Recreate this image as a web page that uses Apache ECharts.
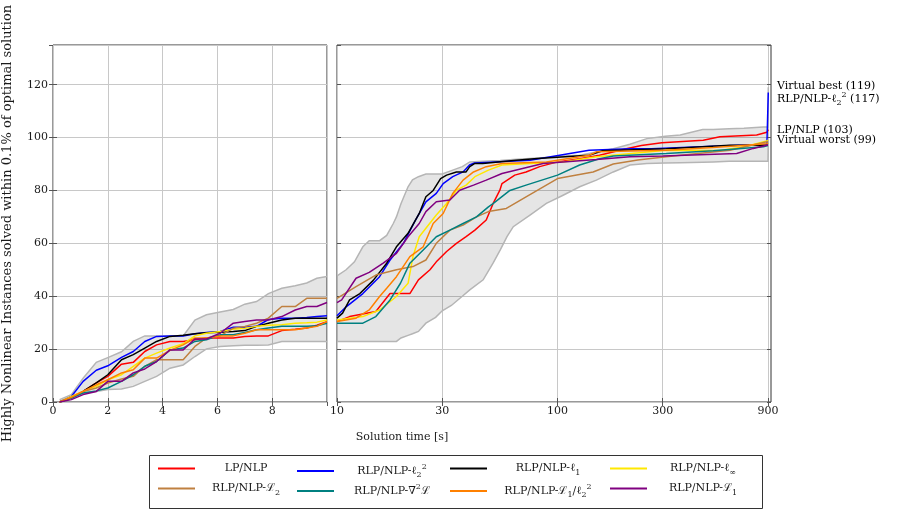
<!DOCTYPE html>
<html><head><meta charset="utf-8">
<script src="https://cdn.jsdelivr.net/npm/echarts@6/dist/echarts.min.js"></script>
<style>html,body{margin:0;padding:0;background:#fff}#c{width:903px;height:510px}</style>
</head><body><div id="c"></div>
<script>
// ---------- data ----------
const seriesNames = ['LP/NLP','RLP/NLP-ℓ₂²','RLP/NLP-ℓ₁','RLP/NLP-ℓ∞','RLP/NLP-ℒ₂','RLP/NLP-∇²ℒ','RLP/NLP-ℒ₁/ℓ₂²','RLP/NLP-ℒ₁'];
const seriesRich = ['{n|LP/NLP}','{n|RLP/NLP-ℓ}{s|2}{p|2}','{n|RLP/NLP-ℓ}{s|1}','{n|RLP/NLP-ℓ}{s|∞}','{n|RLP/NLP-ℒ}{s|2}','{n|RLP/NLP-∇}{p|2}{n|ℒ}','{n|RLP/NLP-ℒ}{s|1}{n|/ℓ}{s|2}{p|2}','{n|RLP/NLP-ℒ}{s|1}'];
const seriesColors = ['#ff0000','#0000ff','#000000','#ffe800','#bf8040','#008080','#ff8000','#800080'];

const rightTicks = [10,30,100,300,900];

// left panel (linear time 0..10 s)
const timesLeft = [0.24,0.67,1.1,1.58,2.0,2.5,2.93,3.35,3.78,4.27,4.75,5.18,5.6,6.1,6.58,7.0,7.43,7.86,8.35,8.84,9.26,9.63,10];
const bandUpperLeft = [0.9,2.8,9,15,16.8,19,22.9,25,25,25,25,31,33,34,35,37,38,41,43,44,45,46.8,47.5];
const bandLowerLeft = [0,1.5,3.4,4,4.7,4.9,5.9,7.8,9.7,12.8,14,17.2,20.1,21,21.3,21.5,21.5,21.6,22.9,22.9,22.9,22.9,22.9];
const leftLP     = [0,1.9,4,7.2,9.7,14.3,15,19.1,21.6,22.9,22.9,23.5,24.2,24.2,24.2,24.8,25,25,27,27.5,28,29,30.4];
const leftL22    = [0,2.1,7.8,12,13.7,16.9,19.1,22.9,24.8,25,25,25.8,26.3,26.7,28.3,28.3,28.6,31.2,31.7,31.7,32,32.3,32.6];
const leftL1     = [0,1.5,4,7.2,10.3,16,17.9,20.4,22.9,24.8,25.2,25.8,26.2,26.4,26.7,27,28.6,29.8,31,31.7,31.7,31.7,31.7];
const leftLinf   = [0,2.1,4,5.9,8.4,10.3,13.5,16.6,18.5,20.4,22,25,26,26.7,27.5,27.9,28.6,29,29.2,29.8,30,30.2,31];
const leftC2     = [0,1.5,4,5.3,7.2,8.7,9.7,13.5,16,16,16,21,24.2,25,27.9,28.6,29.8,31.7,36.1,36.1,39.2,39.2,39.2];
const leftNabla  = [0,1.5,3.4,4.2,5.3,7.8,10.3,13.5,15.3,19.7,20.4,22.9,23.5,25.4,25.4,26.3,27.3,28,28.6,28.6,28.6,28.8,29.8];
const leftC1L22  = [0,1.8,4,6.5,8.4,11,12.2,16.6,16.6,19.5,21.6,24.2,24.2,25,25,26,27.3,27.3,27.3,27.3,28,28.6,30.4];
const leftC1     = [0,0.9,2.8,4,7.8,7.8,11,12.5,15.3,19.7,19.7,23.8,23.8,26,29.8,30.4,31,31,32.3,34.8,36.1,36.1,37.6];

// right panel (log time 10..~930 s), [time, solved]
const bandTimesRight = [10,11,12,13.1,14,15,15.6,16.8,18,18.6,19.5,21,22,23.4,25.3,28,30,33,37,40,46,51,55,59,63,75,89,106,126,150,179,213,254,308,360,455,508,600,700,858,900,903];
const bandUpperRight = [47.7,50,53,58.7,61,61,61,63,67.5,70,75,81.4,84,85.2,86.2,86.2,86.2,87.5,89,90.8,91,91.2,91.3,91.5,91.7,92.1,92.5,93,93.3,94.5,95.8,97.5,99.6,100.5,101,103,103,103.3,103.5,104,104,119];
const bandLowerRight = [22.9,22.9,22.9,22.9,22.9,22.9,22.9,22.9,22.9,22.9,24.2,25.2,25.8,26.7,29.8,32,34.5,36.5,40,42.4,46.2,52.5,57.5,62.5,66.3,70.7,75.1,78.2,81.4,83.9,87,89.6,90.2,90.4,90.5,90.7,90.8,91,91,91,91,99];
const rightLP = [[10,30.4],[11.4,32.3],[15,34.2],[17.4,41],[21.4,41],[23.4,46.2],[26.4,50],[28.2,53],[31.4,56.9],[34.8,60],[38.5,62.5],[42.2,65],[47.5,68.8],[51,75],[54.7,80],[56,82.6],[64,85.8],[72,87],[83,89],[100,90.8],[126,92],[155,93.3],[205,95.8],[240,97],[297,98],[458,99],[545,100.3],[800,101],[890,102],[903,103]];
const rightL22 = [[10,32.6],[11,36],[13.1,41],[15.6,47.4],[17.4,53.7],[20,60],[22.7,68.8],[25.3,75.7],[28.2,78.9],[30.3,82.6],[33.5,85.2],[37.3,87],[39.9,89.6],[42,90.4],[75,91.4],[139,95.2],[213,95.8],[266,95.8],[508,96.7],[890,97.5],[903,117]];
const rightL1 = [[10,31.7],[10.6,33.6],[11.4,38.6],[12.7,41],[14.6,46],[16.8,52.5],[18.6,58.7],[21,63.8],[23.6,71.3],[25.3,77.6],[27.3,80],[29.5,84.5],[31.4,85.8],[34.8,87],[38.5,87],[40,89],[42.2,90.2],[45.8,90.2],[65,91.4],[81,92.1],[139,93.3],[160,95],[311,95.8],[605,97.1],[900,97.1]];
const rightLinf = [[10,31],[13.1,32.3],[15.6,34.8],[18.6,39.9],[21,44.9],[22.1,55],[23.6,62.5],[25.3,65.7],[28.2,70.7],[31.4,75.1],[34.8,80.1],[38.5,82],[42.2,85.2],[48.6,87.7],[56,89.6],[75,90.2],[106,90.8],[150,92.7],[311,95.2],[545,95.1],[720,96.7],[888,98.7],[900,99]];
const rightC2 = [[10,39.2],[12.2,43.6],[15,48],[18.6,50],[22.1,51.2],[25.3,53.7],[28.2,60],[32.5,65],[37.3,66.9],[42.9,70],[48.6,72],[58.6,73.2],[72,77.6],[100,84.5],[145,87],[179,90],[231,91.5],[311,92.7],[605,95.2],[890,98.4],[900,98.5]];
const rightNabla = [[10,29.8],[13.1,29.8],[15,32.3],[17.4,38.6],[19.4,44.9],[21.4,52.5],[24.6,57.5],[28.2,62.5],[32.5,65],[37.3,67.5],[42.9,70],[48.6,73.8],[51,75],[60.8,80],[72,82],[100,85.8],[126,89.6],[155,92],[179,93],[311,94],[508,95],[858,96.5],[900,97]];
const rightC1L22 = [[10,30.4],[12.2,31.7],[14,34.8],[15.6,39.9],[16.8,43],[18.6,47.4],[21.4,55],[24.6,58.7],[27.3,67.5],[30.3,71.3],[33.5,78.9],[37.3,83.9],[41.6,87],[47.5,89],[56,90.2],[89,90.8],[139,93.3],[150,94.6],[311,95.2],[508,96.2],[890,97.7],[900,98]];
const rightC1 = [[10,37.6],[10.5,38.6],[12.2,46.8],[14,49],[16.2,52.5],[18.6,56.2],[21,62.5],[23.6,67.5],[25.3,72],[28.2,75.7],[32.5,76.4],[36,80.1],[41.6,82],[47.5,83.9],[56,86.4],[69.4,88.3],[86,90.2],[106,90.8],[150,91.7],[213,92.7],[301,93],[649,94],[772,95.9],[888,97.1],[900,97.2]];

const endLabels = [
  {text:'{n|Virtual best (119)}', y:86},
  {text:'{n|RLP/NLP-ℓ}{s|2}{p|2}{n| (117)}', y:99},
  {text:'{n|LP/NLP (103)}', y:130},
  {text:'{n|Virtual worst (99)}', y:140}
];

// ---------- build ----------
const leftSeries = [leftLP,leftL22,leftL1,leftLinf,leftC2,leftNabla,leftC1L22,leftC1];
const rightSeries = [rightLP,rightL22,rightL1,rightLinf,rightC2,rightNabla,rightC1L22,rightC1];
const FONT = '"DejaVu Serif", "Liberation Serif", serif';
const TXT = '#1a1a1a';
const rich = {
  n:{fontFamily:FONT,fontSize:11,color:TXT,lineHeight:16},
  s:{fontFamily:FONT,fontSize:8,color:TXT,lineHeight:9,verticalAlign:'bottom'},
  p:{fontFamily:FONT,fontSize:8,color:TXT,lineHeight:9,verticalAlign:'top'}
};
const cv = document.createElement('canvas').getContext('2d');
function richWidth(str){
  let w = 0; const re = /\{(\w)\|([^}]*)\}/g; let m;
  while((m = re.exec(str))){ cv.font = rich[m[1]].fontSize + 'px ' + FONT; w += cv.measureText(m[2]).width; }
  return w;
}
const lg10 = Math.log10;
const GRID_TOP = 45, GRID_H = 357;
const chart = echarts.init(document.getElementById('c'));

const tickStyle = {show:true, inside:true, length:4, lineStyle:{color:'#555', width:1}};
const gridLine = {show:true, lineStyle:{color:'#c8c8c8', width:1}};
const labStyle = {fontFamily:FONT, fontSize:11, color:TXT};

const xAxes = [
  {gridIndex:0, type:'value', min:0, max:10, interval:2, axisLine:{show:false},
   axisTick:tickStyle, splitLine:gridLine, axisLabel:{...labStyle, margin:4, showMaxLabel:false}},
  {gridIndex:0, type:'value', position:'top', min:0, max:10, interval:2, axisLine:{show:false},
   axisTick:tickStyle, splitLine:{show:false}, axisLabel:{show:false}},
  {gridIndex:1, type:'value', min:1, max:2.968, axisLine:{show:false},
   axisTick:{...tickStyle, customValues:rightTicks.map(lg10)}, splitLine:gridLine,
   axisLabel:{...labStyle, margin:4, customValues:rightTicks.map(lg10), formatter:v=>String(Math.round(Math.pow(10,v)))}},
  {gridIndex:1, type:'value', position:'top', min:1, max:2.968, axisLine:{show:false},
   axisTick:{...tickStyle, customValues:rightTicks.map(lg10)}, splitLine:{show:false}, axisLabel:{show:false}}
];
const yBase = {type:'value', min:0, max:135, interval:20, axisLine:{show:false}};
const yAxes = [
  {...yBase, gridIndex:0, axisTick:tickStyle, splitLine:gridLine,
   axisLabel:{...labStyle, margin:5, showMaxLabel:false},
   name:'Highly Nonlinear Instances solved within 0.1% of optimal solution', nameLocation:'middle', nameGap:39,
   nameTextStyle:{fontFamily:FONT, fontSize:13, color:TXT}},
  {...yBase, gridIndex:0, position:'right', axisTick:tickStyle, splitLine:{show:false}, axisLabel:{show:false}},
  {...yBase, gridIndex:1, axisTick:tickStyle, splitLine:gridLine, axisLabel:{show:false}},
  {...yBase, gridIndex:1, position:'right', axisTick:tickStyle, splitLine:{show:false}, axisLabel:{show:false}}
];

function bandSeries(xi, yi, xs, lo, hi){
  return {type:'custom', xAxisIndex:xi, yAxisIndex:yi, silent:true, z:1, clip:true,
    data: xs.map((x,i)=>[x, lo[i], hi[i]]), encode:{x:0, y:[1,2]},
    renderItem:(params, api)=>{
      if (params.dataIndex !== 0) return null;
      const up = xs.map((x,i)=>api.coord([x, hi[i]]));
      const dn = xs.map((x,i)=>api.coord([x, lo[i]]));
      return {type:'group', children:[
        {type:'polygon', shape:{points: up.concat(dn.slice().reverse())}, style:{fill:'rgba(0,0,0,0.1)', stroke:null}},
        {type:'polyline', shape:{points:up}, style:{fill:null, stroke:'#b5b5b5', lineWidth:1.5}},
        {type:'polyline', shape:{points:dn}, style:{fill:null, stroke:'#b5b5b5', lineWidth:1.5}}
      ]};
    }};
}

const series = [];
series.push(bandSeries(0, 0, timesLeft, bandLowerLeft, bandUpperLeft));
series.push(bandSeries(2, 2, bandTimesRight.map(lg10), bandLowerRight, bandUpperRight));

seriesNames.forEach((nm,k)=>{
  series.push({name:nm, type:'line', xAxisIndex:0, yAxisIndex:0, symbol:'none', z:3+k,
    color:seriesColors[k], lineStyle:{color:seriesColors[k], width:1.5},
    data: timesLeft.map((t,i)=>[t, leftSeries[k][i]])});
  series.push({name:nm, type:'line', xAxisIndex:2, yAxisIndex:2, symbol:'none', z:3+k,
    color:seriesColors[k], lineStyle:{color:seriesColors[k], width:1.5},
    data: rightSeries[k].map(p=>[lg10(p[0]), p[1]])});
});

// legend: 4 columns x 2 rows
const iconLeft = [158, 297, 450, 610];
const textCenter = [246, 392, 548, 703];
const rowTop = [463, 483];
const legends = seriesNames.map((nm,k)=>{
  const col = k % 4, row = Math.floor(k/4);
  const w = richWidth(seriesRich[k]);
  const pad = Math.max(0, textCenter[col] - w/2 - (iconLeft[col] + 37 + 5));
  return {data:[nm], left:iconLeft[col], top:rowTop[row], icon:'rect', itemWidth:37, itemHeight:2,
    itemGap:0, padding:0, formatter: ()=>seriesRich[k],
    textStyle:{rich, padding:[0,0,0,pad]}};
});

const graphics = [
  {type:'rect', shape:{x:149.5, y:455.5, width:613, height:53}, style:{fill:'none', stroke:'#333', lineWidth:1}, silent:true},
  {type:'text', style:{text:'Solution time [s]', x:402, y:437, align:'center', verticalAlign:'middle', font:'11px ' + FONT, fill:TXT}, silent:true}
];
endLabels.forEach(l=>graphics.push({type:'text', silent:true,
  style:{text:l.text, x:777, y:l.y, align:'left', verticalAlign:'middle', rich}}));

chart.setOption({
  animation:false,
  grid:[
    {left:53, top:GRID_TOP, width:274, height:GRID_H, show:true, borderColor:'#333', borderWidth:1, containLabel:false},
    {left:337, top:GRID_TOP, width:434, height:GRID_H, show:true, borderColor:'#333', borderWidth:1, containLabel:false}
  ],
  xAxis:xAxes, yAxis:yAxes, legend:legends, series, graphic:graphics
});
</script></body></html>
